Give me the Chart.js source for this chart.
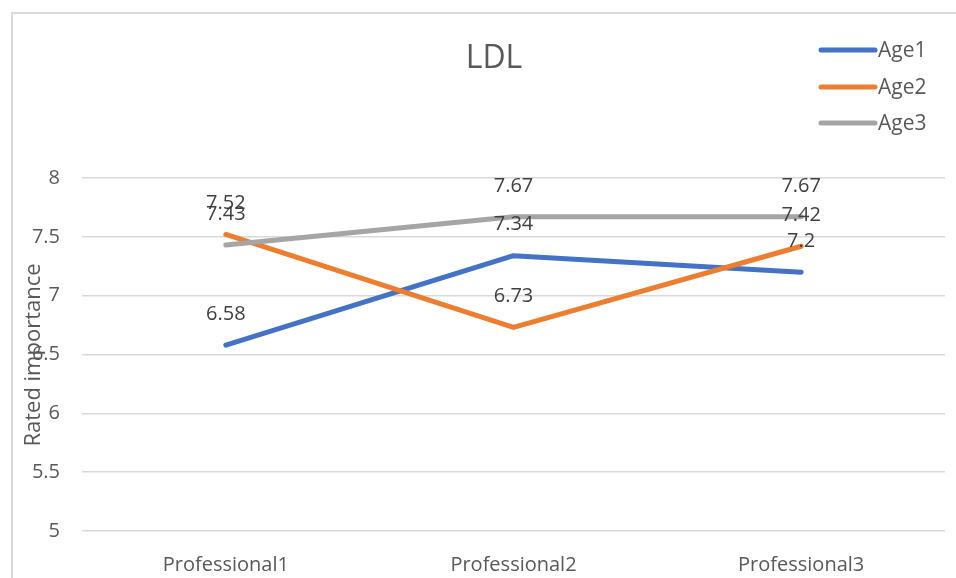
<!DOCTYPE html>
<html>
<head>
<meta charset="utf-8">
<script src="https://cdn.jsdelivr.net/npm/chart.js@4/dist/chart.umd.min.js"></script>
<style>
  html, body { margin: 0; padding: 0; background: #fff; overflow: hidden; }
  #wrap { position: relative; width: 956px; height: 578px; }
  #frame { position: absolute; left: 11px; top: 12px; width: 980px; height: 600px;
           border: 2px solid #d9d9d9; box-sizing: border-box; }
  canvas { position: absolute; left: 0; top: 0; }
</style>
</head>
<body>
<div id="wrap">
  <div id="frame"></div>
  <canvas id="chart" width="956" height="578"></canvas>
</div>
<script>
// chart data
const categories = ['Professional1', 'Professional2', 'Professional3'];
const seriesNames = ['Age1', 'Age2', 'Age3'];
const age1 = [6.58, 7.34, 7.2];
const age2 = [7.52, 6.73, 7.42];
const age3 = [7.43, 7.67, 7.67];
const yMin = 5;
const yMax = 8;
const yStep = 0.5;

const colors = ['#4472C4', '#ED7D31', '#A5A5A5'];
const FONT = '"Open Sans", "Noto Sans", sans-serif';

// Draws title, legend, axis title and point labels on top of the chart
const decorations = {
  id: 'decorations',
  afterDatasetsDraw(chart) {
    const ctx = chart.ctx;
    ctx.save();

    // data labels above each point
    ctx.font = '20px ' + FONT;
    ctx.fillStyle = '#404040';
    ctx.textAlign = 'center';
    ctx.textBaseline = 'middle';
    chart.data.datasets.forEach((ds, i) => {
      const meta = chart.getDatasetMeta(i);
      meta.data.forEach((pt, j) => {
        ctx.fillText(String(ds.data[j]), pt.x, pt.y - 31);
      });
    });

    // title
    ctx.font = '32px ' + FONT;
    ctx.fillStyle = '#595959';
    ctx.fillText('LDL', 494, 59);

    // legend
    ctx.font = '21px ' + FONT;
    ctx.textAlign = 'left';
    const rows = [50, 87, 123];
    seriesNames.forEach((name, i) => {
      ctx.strokeStyle = colors[i];
      ctx.lineWidth = 5;
      ctx.lineCap = 'round';
      ctx.beginPath();
      ctx.moveTo(821, rows[i]);
      ctx.lineTo(875, rows[i]);
      ctx.stroke();
      ctx.fillStyle = '#595959';
      ctx.fillText(name, 878, rows[i] + 1);
    });

    // y axis title
    ctx.translate(34, 355);
    ctx.rotate(-Math.PI / 2);
    ctx.textAlign = 'center';
    ctx.font = '22px ' + FONT;
    ctx.fillText('Rated importance', 0, 0);

    ctx.restore();
  }
};

new Chart(document.getElementById('chart'), {
  type: 'line',
  data: {
    labels: categories,
    datasets: [
      { label: seriesNames[0], data: age1, borderColor: colors[0], order: 2 },
      { label: seriesNames[1], data: age2, borderColor: colors[1], order: 1 },
      { label: seriesNames[2], data: age3, borderColor: colors[2], order: 0 }
    ].map(ds => Object.assign(ds, {
      borderWidth: 5,
      borderCapStyle: 'round',
      borderJoinStyle: 'round',
      pointRadius: 0,
      tension: 0,
      fill: false
    }))
  },
  options: {
    responsive: false,
    animation: false,
    layout: { padding: { left: 0, right: 11, top: 178, bottom: 0 } },
    plugins: {
      legend: { display: false },
      title: { display: false },
      tooltip: { enabled: false }
    },
    scales: {
      x: {
        offset: true,
        grid: { display: false },
        border: { display: false },
        ticks: {
          color: '#595959',
          font: { family: FONT, size: 20 },
          padding: 14,
          maxRotation: 0
        },
        afterFit(scale) { scale.height = 47; }
      },
      y: {
        min: yMin,
        max: yMax,
        grid: { color: '#d9d9d9', lineWidth: 1.5, drawTicks: false },
        border: { display: false },
        ticks: {
          stepSize: yStep,
          color: '#595959',
          font: { family: FONT, size: 20 },
          padding: 22,
          callback: value => String(value)
        },
        afterFit(scale) { scale.width = 82; }
      }
    }
  },
  plugins: [decorations]
});
</script>
</body>
</html>
